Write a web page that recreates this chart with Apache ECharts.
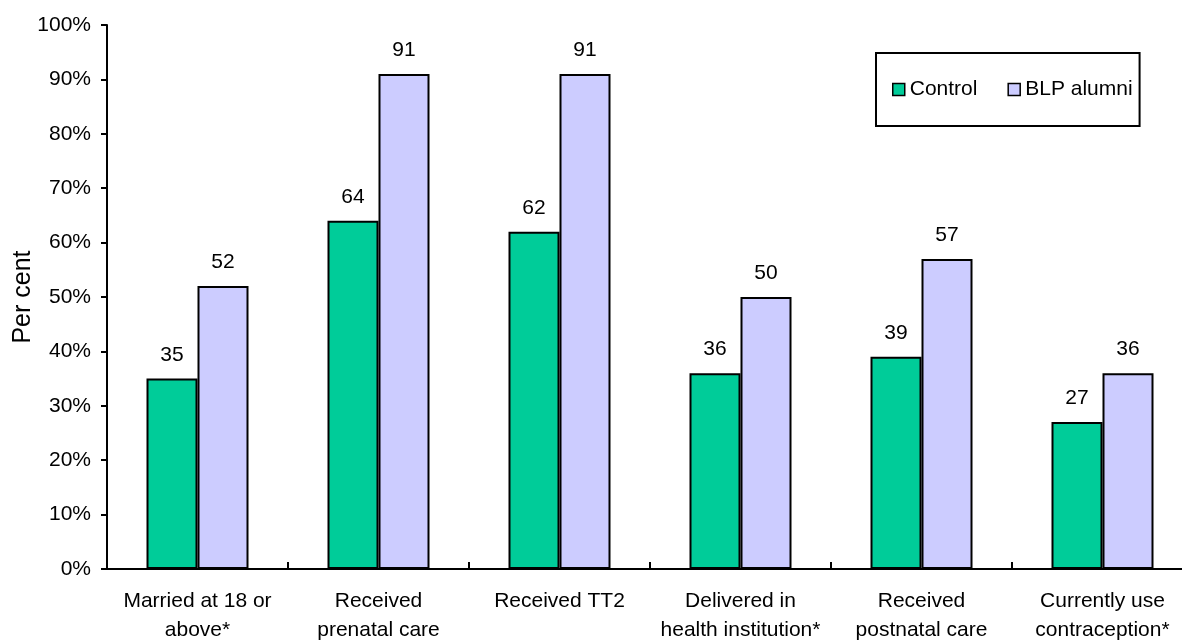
<!DOCTYPE html>
<html>
<head>
<meta charset="utf-8">
<script src="https://cdn.jsdelivr.net/npm/echarts@6/dist/echarts.min.js"></script>
<style>
  html, body { margin: 0; padding: 0; background: #fff; }
  #container { width: 1182px; height: 642px; }
</style>
</head>
<body>
<div id="container"></div>
<script>
var categories = [
  "Married at 18 or\nabove*",
  "Received\nprenatal care",
  "Received TT2",
  "Delivered in\nhealth institution*",
  "Received\npostnatal care",
  "Currently use\ncontraception*"
];
var controlValues = [35, 64, 62, 36, 39, 27];
var alumniValues = [52, 91, 91, 50, 57, 36];

var dom = document.getElementById("container");
var myChart = echarts.init(dom, null, { renderer: "canvas" });

var font = "Liberation Sans, Arial, sans-serif";

var labelStyle = {
  show: true,
  position: "top",
  distance: 13,
  color: "#000",
  fontFamily: font,
  fontSize: 21
};

var option = {
  animation: false,
  textStyle: { fontFamily: font },
  grid: {
    left: 107,
    right: -11,
    top: 25,
    bottom: 73,
    outerBoundsMode: "none",
    containLabel: false
  },
  legend: {
    left: 876,
    top: 53,
    orient: "horizontal",
    borderColor: "#000",
    borderWidth: 2,
    padding: [26, 7, 26, 16],
    itemWidth: 12,
    itemHeight: 12,
    itemGap: 30,
    textStyle: { color: "#000", fontSize: 21, fontFamily: font },
    data: [
      { name: "Control", icon: "rect", itemStyle: { borderColor: "#000", borderWidth: 1.5 } },
      { name: "BLP alumni", icon: "rect", itemStyle: { borderColor: "#000", borderWidth: 1.5 } }
    ]
  },
  xAxis: {
    type: "category",
    data: categories,
    boundaryGap: true,
    axisLine: { lineStyle: { color: "#000", width: 2 } },
    axisTick: { show: true, inside: true, length: 7, lineStyle: { color: "#000", width: 2 } },
    axisLabel: {
      color: "#000",
      fontSize: 21,
      fontFamily: font,
      margin: 18,
      lineHeight: 29,
      interval: 0
    }
  },
  yAxis: {
    type: "value",
    min: 0,
    max: 100,
    interval: 10,
    name: "Per cent",
    nameLocation: "middle",
    nameGap: 71,
    nameMoveOverlap: false,
    nameTextStyle: { color: "#000", fontSize: 25, fontFamily: font },
    axisLine: { show: true, lineStyle: { color: "#000", width: 2 } },
    axisTick: { show: true, length: 6, lineStyle: { color: "#000", width: 2 } },
    axisLabel: {
      color: "#000",
      fontSize: 21,
      fontFamily: font,
      margin: 16,
      formatter: "{value}%"
    },
    splitLine: { show: false }
  },
  series: [
    {
      name: "Control",
      type: "bar",
      barWidth: 51,
      barGap: "0%",
      data: controlValues,
      label: labelStyle,
      itemStyle: { color: "#00CC99", borderColor: "#000", borderWidth: 2 }
    },
    {
      name: "BLP alumni",
      type: "bar",
      barWidth: 51,
      barGap: "0%",
      data: alumniValues,
      label: labelStyle,
      itemStyle: { color: "#CCCCFF", borderColor: "#000", borderWidth: 2 }
    }
  ]
};

myChart.setOption(option);
window.addEventListener("resize", myChart.resize);
</script>
</body>
</html>
